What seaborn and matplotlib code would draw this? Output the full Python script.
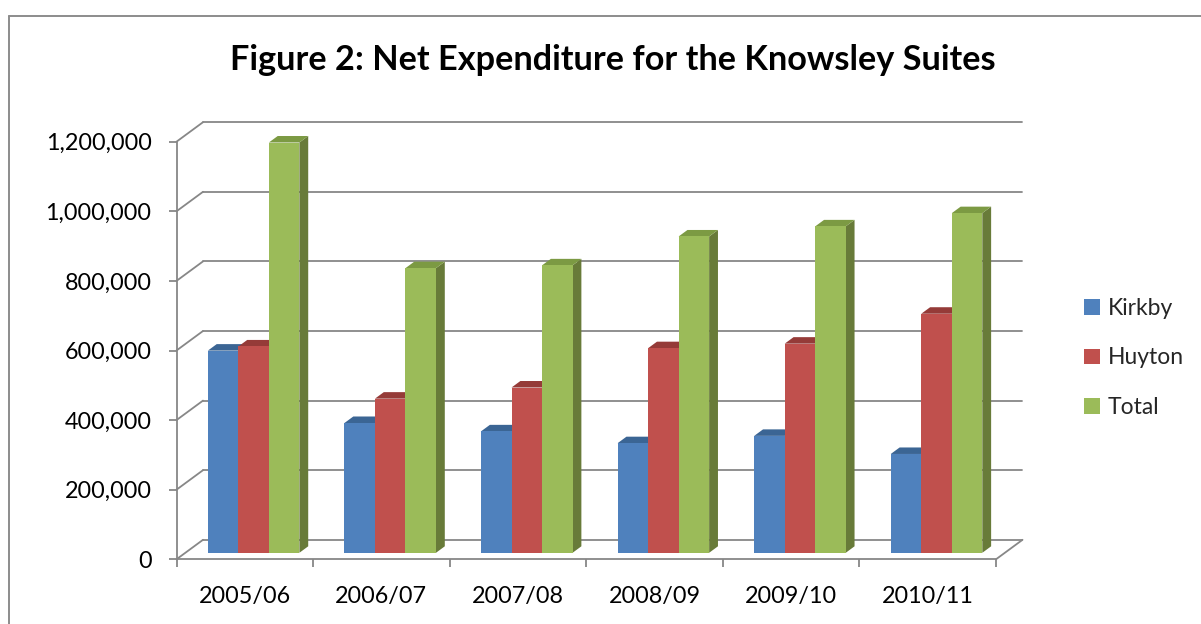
import numpy as np
import pandas as pd
import matplotlib
matplotlib.use("Agg")
import matplotlib.pyplot as plt
import seaborn as sns
from matplotlib.patches import Polygon, Patch
from matplotlib.lines import Line2D
from matplotlib.ticker import FuncFormatter

# ---- data ----
years = ["2005/06", "2006/07", "2007/08", "2008/09", "2009/10", "2010/11"]
kirkby = [581000, 373000, 349000, 315000, 336000, 284000]
huyton = [593000, 443000, 475000, 588000, 601000, 687000]
total = [1179000, 818000, 826000, 909000, 938000, 976000]
series = ["Kirkby", "Huyton", "Total"]
yticks = [0, 200000, 400000, 600000, 800000, 1000000, 1200000]
title = "Figure 2: Net Expenditure for the Knowsley Suites"

# ---- style ----
front_colors = ["#4F81BD", "#C0504D", "#9BBB59"]
top_colors = ["#3B6594", "#953B38", "#7C9A43"]
side_colors = ["#30527E", "#7E302D", "#687B39"]
grid_col = "#878787"

sns.set_theme(style="white")
plt.rcParams['font.family'] = ['Lato', 'DejaVu Sans']

W, H = 1201, 624
fig = plt.figure(figsize=(W / 100, H / 100), dpi=100)
fig.patch.set_facecolor("white")

# front plane of the 3D box (pixels from top-left)
x0_px, x1_px = 176.5, 996.0
y0_px, y1_px = 559.3, 141.7
ax = fig.add_axes([x0_px / W, (H - y0_px) / H, (x1_px - x0_px) / W, (y0_px - y1_px) / H])

df = pd.DataFrame({
    "Year": years * 3,
    "Series": sum([[s] * len(years) for s in series], []),
    "Value": kirkby + huyton + total,
})

sns.barplot(data=df, x="Year", y="Value", hue="Series", hue_order=series,
            palette=front_colors, saturation=1, width=0.67, ax=ax,
            legend=False, edgecolor="none", linewidth=0)

ax.set_xlim(-0.5, len(years) - 0.5)
ax.set_ylim(yticks[0], yticks[-1])
ax.set_facecolor("none")

# pixel -> data scale
sx = (x1_px - x0_px) / len(years)
sy = (y0_px - y1_px) / (yticks[-1] - yticks[0])
Dx, Dy = 26.5 / sx, 19.5 / sy       # full depth vector in data units
fx, fy = Dx / 3, Dy / 3              # bar front plane offset
bx, by = Dx / 3, Dy / 3              # bar depth

# back wall gridlines + side wall diagonals + floor
for v in yticks:
    ax.add_line(Line2D([-0.5 + Dx, len(years) - 0.5 + Dx], [v + Dy, v + Dy],
                       color=grid_col, lw=1.3, zorder=1, clip_on=False))
    ax.add_line(Line2D([-0.5, -0.5 + Dx], [v, v + Dy],
                       color=grid_col, lw=1.3, zorder=1, clip_on=False))
ax.add_line(Line2D([len(years) - 0.5, len(years) - 0.5 + Dx], [0, Dy],
                   color=grid_col, lw=1.3, zorder=1, clip_on=False))

# pseudo-3D bars
for si, cont in enumerate(ax.containers):
    for p in cont.patches:
        x = p.get_x() + fx
        w = p.get_width()
        h = p.get_height()
        y = fy
        p.set_x(x)
        p.set_y(y)
        p.set_zorder(3 + si * 0.1)
        p.set_clip_on(False)
        side = Polygon([(x + w, y), (x + w + bx, y + by), (x + w + bx, y + h + by), (x + w, y + h)],
                       closed=True, facecolor=side_colors[si], edgecolor="none",
                       zorder=3 + si * 0.1 - 0.05, clip_on=False)
        top = Polygon([(x, y + h), (x + w, y + h), (x + w + bx, y + h + by), (x + bx, y + h + by)],
                      closed=True, facecolor=top_colors[si], edgecolor="none",
                      zorder=3 + si * 0.1 - 0.05, clip_on=False)
        ax.add_patch(side)
        ax.add_patch(top)

# spines / ticks
sns.despine(ax=ax, top=True, right=True)
for s in ["left", "bottom"]:
    ax.spines[s].set_color(grid_col)
    ax.spines[s].set_linewidth(1.3)
    ax.spines[s].set_zorder(2)

ax.set_yticks(yticks)
ax.yaxis.set_major_formatter(FuncFormatter(lambda v, _: f"{int(v):,}"))
ax.tick_params(axis="y", which="major", direction="out", length=6, width=1.3,
               color=grid_col, pad=12, labelsize=16.8, labelcolor="black", left=True)

ax.set_xticks(np.arange(-0.5, len(years), 1.0))
ax.set_xticklabels([""] * (len(years) + 1))
ax.set_xticks(np.arange(len(years)), minor=True)
ax.set_xticklabels(years, minor=True)
ax.tick_params(axis="x", which="major", direction="out", length=6, width=1.3,
               color=grid_col, bottom=True)
ax.tick_params(axis="x", which="minor", length=0, pad=19, labelsize=16.8, labelcolor="black")
ax.set_xlabel("")
ax.set_ylabel("")
ax.grid(False)

# title
fig.text(613 / W, 1 - 60 / H, title, ha="center", va="center",
         fontsize=24.7, fontweight="bold", color="black")

# legend
handles = [Patch(facecolor=c, edgecolor="none") for c in front_colors]
fig.legend(handles, series, loc="center left", bbox_to_anchor=(1084 / W, 1 - 358 / H),
           frameon=False, fontsize=16.5, handlelength=0.68, handleheight=0.68,
           handletextpad=0.35, labelspacing=1.23, borderpad=0, borderaxespad=0)

# outer chart border (left and top visible)
fig.add_artist(Line2D([8.7 / W, 8.7 / W], [0, 1 - 15.7 / H], transform=fig.transFigure,
                      color="#8C8C8C", lw=1.4))
fig.add_artist(Line2D([8.7 / W, 1], [1 - 15.7 / H, 1 - 15.7 / H], transform=fig.transFigure,
                      color="#8C8C8C", lw=1.4))

fig.savefig("out.png", dpi=100)
